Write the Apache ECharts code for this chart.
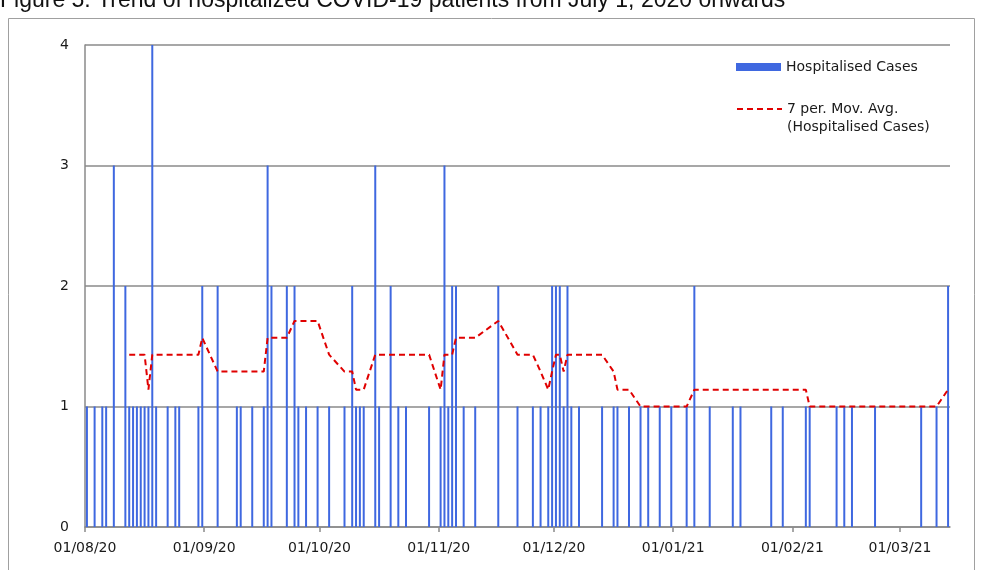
<!DOCTYPE html>
<html>
<head>
<meta charset="utf-8">
<script src="https://cdn.jsdelivr.net/npm/echarts@6/dist/echarts.min.js"></script>
<style>
html,body{margin:0;padding:0;background:#fff;}
#chart{width:981px;height:570px;}
</style>
</head>
<body>
<div id="chart"></div>
<script>
// Dates with hospitalised cases (days without cases are absent)
const admissionDates = [
  '2020-08-01','2020-08-03','2020-08-05','2020-08-06','2020-08-08','2020-08-11','2020-08-12','2020-08-13',
  '2020-08-14','2020-08-15','2020-08-16','2020-08-17','2020-08-18','2020-08-19','2020-08-22','2020-08-24',
  '2020-08-25','2020-08-30','2020-08-31','2020-09-04','2020-09-09','2020-09-10','2020-09-13','2020-09-16',
  '2020-09-17','2020-09-18','2020-09-22','2020-09-24','2020-09-25','2020-09-27','2020-09-30','2020-10-03',
  '2020-10-07','2020-10-09','2020-10-10','2020-10-11','2020-10-12','2020-10-15','2020-10-16','2020-10-19',
  '2020-10-21','2020-10-23','2020-10-29','2020-11-01','2020-11-02','2020-11-03','2020-11-04','2020-11-05',
  '2020-11-07','2020-11-10','2020-11-16','2020-11-21','2020-11-25','2020-11-27','2020-11-29','2020-11-30',
  '2020-12-01','2020-12-02','2020-12-03','2020-12-04','2020-12-05','2020-12-07','2020-12-13','2020-12-16',
  '2020-12-17','2020-12-20','2020-12-23','2020-12-25','2020-12-28','2020-12-31','2021-01-04','2021-01-06',
  '2021-01-10','2021-01-16','2021-01-18','2021-01-26','2021-01-29','2021-02-04','2021-02-05','2021-02-12',
  '2021-02-14','2021-02-16','2021-02-22','2021-03-06','2021-03-10','2021-03-13'
];
const hospitalisedCases = [
  1,1,1,1,3,2,1,1,
  1,1,1,1,4,1,1,1,
  1,1,2,2,1,1,1,1,
  3,2,2,2,1,1,1,1,
  1,2,1,1,1,3,1,2,
  1,1,1,1,3,1,2,2,
  1,1,2,1,1,1,1,2,
  2,2,1,2,1,1,1,1,
  1,1,1,1,1,1,1,2,
  1,1,1,1,1,1,1,1,
  1,1,1,1,1,2
];
// 7 period moving average (starts at the 7th point)
const movingAverage7 = [
  null,null,null,null,null,null,1.43,1.43,
  1.43,1.43,1.43,1.14,1.43,1.43,1.43,1.43,
  1.43,1.43,1.57,1.29,1.29,1.29,1.29,1.29,
  1.57,1.57,1.57,1.71,1.71,1.71,1.71,1.43,
  1.29,1.29,1.14,1.14,1.14,1.43,1.43,1.43,
  1.43,1.43,1.43,1.14,1.43,1.43,1.43,1.57,
  1.57,1.57,1.71,1.43,1.43,1.29,1.14,1.29,
  1.43,1.43,1.29,1.43,1.43,1.43,1.43,1.29,
  1.14,1.14,1.00,1.00,1.00,1.00,1.00,1.14,
  1.14,1.14,1.14,1.14,1.14,1.14,1.00,1.00,
  1.00,1.00,1.00,1.00,1.00,1.14
];
const monthTicks = ['2020-08-01','2020-09-01','2020-10-01','2020-11-01','2020-12-01','2021-01-01','2021-02-01','2021-03-01'];
const axisStart = '2020-08-01';
const axisEnd = '2021-03-14';
const titleText = 'Figure 5: Trend of hospitalized COVID-19 patients from July 1, 2020 onwards';
const barName = 'Hospitalised Cases';
const lineName = '7 per. Mov. Avg.';

function ts(s, hour) {
  const p = s.split('-').map(Number);
  return new Date(p[0], p[1] - 1, p[2], hour || 0).getTime();
}
function fmtDate(v) {
  const d = new Date(v);
  const z = n => String(n).padStart(2, '0');
  return z(d.getDate()) + '/' + z(d.getMonth() + 1) + '/' + String(d.getFullYear()).slice(2);
}

const barData = admissionDates.map((d, i) => [ts(d, 12), hospitalisedCases[i]]);
const lineData = [];
admissionDates.forEach((d, i) => { if (movingAverage7[i] != null) lineData.push([ts(d, 12), movingAverage7[i]]); });
const tickValues = monthTicks.map(d => ts(d));

const gridGray = '#8a8a8a';
const textFont = 'DejaVu Sans';

const chart = echarts.init(document.getElementById('chart'), null, { renderer: 'canvas' });
chart.setOption({
  animation: false,
  backgroundColor: '#ffffff',
  title: {
    text: titleText,
    left: 0, top: -11, padding: 0,
    textStyle: { fontFamily: 'Liberation Sans', fontSize: 23, fontWeight: 'normal', color: '#111' }
  },
  graphic: [{
    type: 'rect', silent: true, z: -1,
    shape: { x: 8.5, y: 18.5, width: 966, height: 600 },
    style: { fill: 'none', stroke: '#a0a0a0', lineWidth: 1 }
  }],
  legend: [
    {
      data: [barName], left: 736, top: 60, padding: 0,
      itemWidth: 45, itemHeight: 8, icon: 'rect',
      textStyle: { fontFamily: textFont, fontSize: 14, color: '#1a1a1a' }
    },
    {
      data: [lineName], left: 736, top: 82, padding: 0,
      itemWidth: 45, itemHeight: 8,
      itemStyle: { color: 'rgba(0,0,0,0)', borderColor: 'rgba(0,0,0,0)', borderWidth: 0, opacity: 0 },
      formatter: () => '\n' + lineName + '\n(' + barName + ')',
      textStyle: { fontFamily: textFont, fontSize: 14, color: '#1a1a1a', lineHeight: 18 }
    }
  ],
  grid: { left: 85, right: 31, top: 45, bottom: 43 },
  xAxis: {
    type: 'value',
    min: ts(axisStart), max: ts(axisEnd),
    axisLine: { show: true, lineStyle: { color: gridGray, width: 1.5 } },
    axisTick: { show: true, customValues: tickValues, length: 5, lineStyle: { color: gridGray, width: 1.5 } },
    axisLabel: {
      customValues: tickValues, formatter: fmtDate, margin: 14,
      fontFamily: textFont, fontSize: 14, color: '#1a1a1a'
    },
    splitLine: { show: false }
  },
  yAxis: {
    type: 'value', min: 0, max: 4, interval: 1,
    axisLine: { show: true, lineStyle: { color: gridGray, width: 1.5 } },
    axisTick: { show: false },
    axisLabel: { margin: 16, fontFamily: textFont, fontSize: 14, color: '#1a1a1a' },
    splitLine: { show: true, lineStyle: { color: gridGray, width: 1.5 } }
  },
  series: [
    {
      name: barName, type: 'bar', barWidth: 2,
      data: barData,
      itemStyle: { color: '#3f68e0' }
    },
    {
      name: lineName, type: 'line', data: lineData,
      symbol: 'none', showSymbol: false, z: 5,
      lineStyle: { color: '#e00000', width: 2, type: [6, 4] },
      itemStyle: { color: '#e00000' }
    }
  ]
});
</script>
</body>
</html>
